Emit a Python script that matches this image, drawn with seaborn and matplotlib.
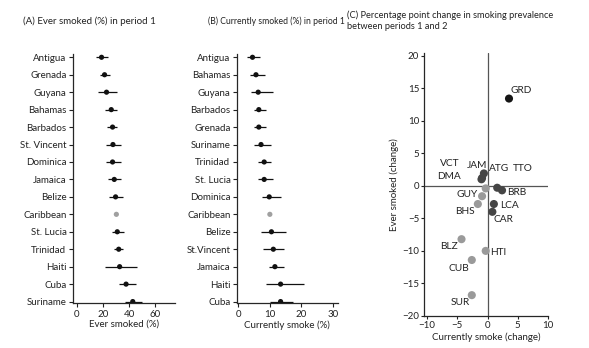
import matplotlib
matplotlib.use("Agg")
import matplotlib.pyplot as plt
import seaborn as sns
import pandas as pd

# Panel A: ever smoked (%) in period 1
a_country = ["Antigua", "Grenada", "Guyana", "Bahamas", "Barbados", "St. Vincent", "Dominica",
             "Jamaica", "Belize", "Caribbean", "St. Lucia", "Trinidad", "Haiti", "Cuba", "Suriname"]
a_est = [19.0, 21.3, 22.8, 26.4, 27.4, 27.7, 27.4, 28.7, 29.7, 30.3, 31.0, 32.1, 32.8, 37.7, 42.8]
a_lo = [14.9, 18.2, 16.4, 22.0, 23.3, 22.6, 22.3, 24.1, 24.6, 30.3, 26.7, 28.5, 22.0, 32.3, 36.9]
a_hi = [23.8, 25.1, 31.0, 31.0, 31.0, 33.6, 33.6, 33.6, 35.6, 30.3, 36.2, 35.6, 46.4, 45.1, 49.5]

# Panel B: currently smoked (%) in period 1
b_country = ["Antigua", "Bahamas", "Guyana", "Barbados", "Grenada", "Suriname", "Trinidad", "St. Lucia",
             "Dominica", "Caribbean", "Belize", "St.Vincent", "Jamaica", "Haiti", "Cuba"]
b_est = [4.5, 5.6, 6.3, 6.5, 6.5, 7.2, 8.2, 8.2, 9.8, 10.0, 10.5, 11.1, 11.6, 13.4, 13.4]
b_lo = [2.8, 3.7, 4.0, 4.9, 4.9, 4.9, 6.3, 6.3, 7.4, 10.0, 7.1, 7.9, 9.7, 8.7, 10.0]
b_hi = [6.8, 8.4, 11.1, 8.9, 8.9, 10.5, 10.5, 11.1, 13.4, 10.0, 15.1, 14.4, 14.4, 20.8, 17.4]

# Panel C: change between periods
c_code = ["GRD", "JAM", "VCT", "DMA", "ATG", "TTO", "BRB", "GUY", "BHS", "LCA", "CAR", "BLZ", "HTI", "CUB", "SUR"]
c_cur = [3.55, -0.6, -0.9, -1.0, -0.3, 1.6, 2.4, -0.9, -1.6, 1.05, 0.8, -4.3, -0.3, -2.6, -2.6]
c_ever = [13.4, 1.9, 1.2, 1.0, -0.4, -0.3, -0.7, -1.6, -2.8, -2.8, -4.0, -8.2, -10.0, -11.4, -16.8]
c_group = ["top", "dark", "dark", "dark", "light", "dark", "dark", "light", "light", "dark", "dark",
           "light", "light", "light", "light"]
c_lab_x = [5.5, -1.8, -6.3, -6.3, 1.9, 5.9, 4.9, -3.4, -3.7, 3.6, 2.7, -6.3, 1.7, -4.8, -4.5]
c_lab_y = [14.7, 3.1, 3.5, 1.5, 2.6, 2.7, -1.0, -1.4, -4.0, -3.0, -5.2, -9.3, -10.3, -12.7, -18.0]

sns.set_style("ticks")
plt.rcParams["font.family"] = ["Lato", "DejaVu Sans"]
plt.rcParams["font.size"] = 7
txt = "#222222"

fig = plt.figure(figsize=(5.89, 3.48), dpi=100)


def forest(ax, names, est, lo, hi, xlim, ticks, xlabel):
    df = pd.DataFrame({"name": names, "est": est, "lo": lo, "hi": hi})
    df["grp"] = ["pool" if n == "Caribbean" else "c" for n in names]
    pos = list(range(len(names)))
    ax.hlines(pos, df["lo"], df["hi"], color="#111111", lw=0.9)
    sns.scatterplot(data=df, x="est", y="name", hue="grp", palette={"c": "#111111", "pool": "#a0a0a0"},
                    s=14, linewidth=0, legend=False, ax=ax)
    ax.set_ylim(14.1, -0.17)
    ax.set_xlim(*xlim)
    ax.set_xticks(ticks)
    ax.set_xlabel(xlabel, fontsize=7, color=txt, labelpad=1)
    ax.set_ylabel("")
    ax.tick_params(axis="both", length=3, width=0.8, pad=1.5, labelsize=7, colors=txt)
    for s in ["top", "right"]:
        ax.spines[s].set_visible(False)
    for s in ["left", "bottom"]:
        ax.spines[s].set_linewidth(0.9)


axA = fig.add_axes([0.1234, 0.1284, 0.1737, 0.7155])
forest(axA, a_country, a_est, a_lo, a_hi, (-3, 75), [0, 20, 40, 60], "Ever smoked (%)")
axB = fig.add_axes([0.4019, 0.1284, 0.172, 0.7155])
forest(axB, b_country, b_est, b_lo, b_hi, (-0.5, 31.6), [0, 10, 20, 30], "Currently smoke (%)")

fig.text(0.039, 0.94, "(A) Ever smoked (%) in period 1", fontsize=7.0, color=txt, va="center")
fig.text(0.353, 0.94, "(B) Currently smoked (%) in period 1", fontsize=6.2, color=txt, va="center")
fig.text(0.589, 0.94, "(C) Percentage point change in smoking prevalence\nbetween periods 1 and 2",
         fontsize=6.7, color=txt, va="center", linespacing=1.3)

axC = fig.add_axes([0.7199, 0.092, 0.2105, 0.7557])
dfc = pd.DataFrame({"code": c_code, "cur": c_cur, "ever": c_ever, "grp": c_group})
axC.axvline(0, color="#555555", lw=0.9, zorder=0)
axC.axhline(0, color="#555555", lw=0.9, zorder=0)
sns.scatterplot(data=dfc, x="cur", y="ever", hue="grp",
                palette={"top": "#151515", "dark": "#454545", "light": "#9a9a9a"},
                s=34, linewidth=0, legend=False, ax=axC)
for code, lx, ly in zip(c_code, c_lab_x, c_lab_y):
    axC.text(lx, ly, code, fontsize=7.3, color=txt, ha="center", va="center")
axC.set_xlim(-10.5, 10)
axC.set_ylim(-20, 20.4)
axC.set_xticks([-10, -5, 0, 5, 10])
axC.set_yticks([-20, -15, -10, -5, 0, 5, 10, 15, 20])
axC.set_xlabel("Currently smoke (change)", fontsize=7, color=txt, labelpad=2)
axC.set_ylabel("Ever smoked (change)", fontsize=7, color=txt, labelpad=2)
axC.tick_params(axis="both", length=2, width=0.8, pad=1.5, labelsize=7, colors=txt)
for s in ["top", "right"]:
    axC.spines[s].set_visible(False)
for s in ["left", "bottom"]:
    axC.spines[s].set_linewidth(0.9)

fig.savefig("out.png", dpi=100)
